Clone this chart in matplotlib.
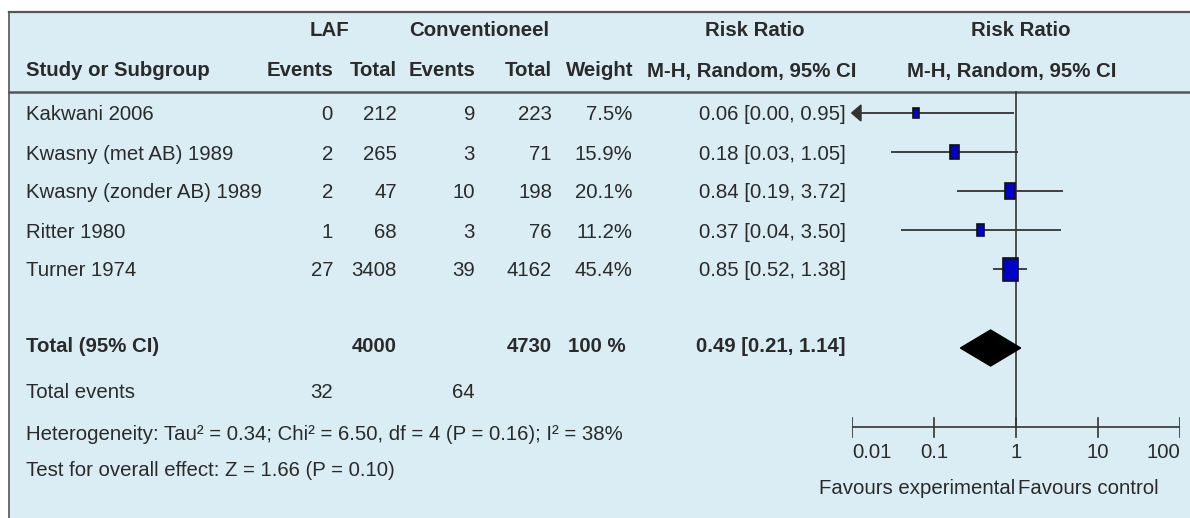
import numpy as np
import matplotlib
matplotlib.use('Agg')
import matplotlib.pyplot as plt
from matplotlib.patches import Rectangle, Polygon

plt.rcParams['font.family'] = ['Liberation Sans', 'DejaVu Sans']

studies = ['Kakwani 2006', 'Kwasny (met AB) 1989', 'Kwasny (zonder AB) 1989',
           'Ritter 1980', 'Turner 1974']
laf_events = [0, 2, 2, 1, 27]
laf_total = [212, 265, 47, 68, 3408]
conv_events = [9, 3, 10, 3, 39]
conv_total = [223, 71, 198, 76, 4162]
weights = [7.5, 15.9, 20.1, 11.2, 45.4]
rr = [0.06, 0.18, 0.84, 0.37, 0.85]
ci_lo = [0.00, 0.03, 0.19, 0.04, 0.52]
ci_hi = [0.95, 1.05, 3.72, 3.50, 1.38]

total_rr, total_lo, total_hi = 0.49, 0.21, 1.14
tot_laf, tot_conv = 4000, 4730
events_laf, events_conv = 32, 64
heterogeneity = 'Heterogeneity: Tau² = 0.34; Chi² = 6.50, df = 4 (P = 0.16); I² = 38%'
overall = 'Test for overall effect: Z = 1.66 (P = 0.10)'
ticks = [0.01, 0.1, 1, 10, 100]
tick_labels = ['0.01', '0.1', '1', '10', '100']

BG = '#daedf4'
TXT = '#2a2a2a'
FS = 14.7

fig = plt.figure(figsize=(11.9, 5.18), dpi=100)
fig.patch.set_facecolor('white')
ax = fig.add_axes([0, 0, 1, 1])
ax.set_xlim(0, 1190)
ax.set_ylim(518, 0)
ax.axis('off')

# panel
ax.add_patch(Rectangle((9, 12), 1200, 520, facecolor=BG, edgecolor='none'))
ax.plot([9, 1190], [12, 12], color='#555555', lw=1.6)
ax.plot([9, 9], [12, 518], color='#555555', lw=1.2)
ax.plot([9, 1190], [92, 92], color='#555555', lw=1.8)


def t(x, y, s, ha='left', bold=False):
    ax.text(x, y, s, ha=ha, va='center', fontsize=FS, color=TXT,
            fontweight='bold' if bold else 'normal')


# header
t(329, 31, 'LAF', 'center', True)
t(479, 31, 'Conventioneel', 'center', True)
t(755, 31, 'Risk Ratio', 'center', True)
t(1021, 31, 'Risk Ratio', 'center', True)
t(26, 71, 'Study or Subgroup', bold=True)
t(333, 71, 'Events', 'right', True)
t(397, 71, 'Total', 'right', True)
t(475, 71, 'Events', 'right', True)
t(552, 71, 'Total', 'right', True)
t(633, 71, 'Weight', 'right', True)
t(752, 71, 'M-H, Random, 95% CI', 'center', True)
t(1012, 71, 'M-H, Random, 95% CI', 'center', True)

rows_y = [113, 152, 191, 230, 269]
for i, y in enumerate(rows_y):
    yt = y + 2
    t(26, yt, studies[i])
    t(333, yt, str(laf_events[i]), 'right')
    t(397, yt, str(laf_total[i]), 'right')
    t(475, yt, str(conv_events[i]), 'right')
    t(552, yt, str(conv_total[i]), 'right')
    t(632, yt, f'{weights[i]:.1f}%', 'right')
    t(846, yt, f'{rr[i]:.2f} [{ci_lo[i]:.2f}, {ci_hi[i]:.2f}]', 'right')

ty = 348
t(26, ty - 1, 'Total (95% CI)', bold=True)
t(397, ty - 1, str(tot_laf), 'right', True)
t(552, ty - 1, str(tot_conv), 'right', True)
t(626, ty - 1, '100 %', 'right', True)
t(846, ty - 1, f'{total_rr:.2f} [{total_lo:.2f}, {total_hi:.2f}]', 'right', True)

t(26, 392, 'Total events')
t(333, 392, str(events_laf), 'right')
t(475, 392, str(events_conv), 'right')
t(26, 434, heterogeneity)
t(26, 470, overall)

# forest plot
x0, x1 = 852, 1180
fax = fig.add_axes([x0 / 1190, 0, (x1 - x0) / 1190, 1])
fax.set_xscale('log')
fax.set_xlim(0.01, 100)
fax.set_ylim(518, 0)
fax.axis('off')
fax.patch.set_alpha(0)
dec = (x1 - x0) / 4.0  # pixels per decade

fax.plot([1, 1], [92, 427], color='#333333', lw=1.2)
fax.plot([0.01, 100], [427, 427], color='#333333', lw=1.2)
for k, tk in enumerate(ticks):
    fax.plot([tk, tk], [418, 437], color='#333333', lw=1.2)
    ha = 'left' if k == 0 else ('right' if k == len(ticks) - 1 else 'center')
    fax.text(tk, 452, tick_labels[k], ha=ha, va='center', fontsize=FS, color=TXT)
fax.text(0.98, 489, 'Favours experimental', ha='right', va='center', fontsize=FS, color=TXT)
fax.text(1.05, 489, 'Favours control', ha='left', va='center', fontsize=FS, color=TXT)

for i, y in enumerate(rows_y):
    lo = max(ci_lo[i], 0.01)
    fax.plot([lo, ci_hi[i]], [y, y], color='#333333', lw=1.3, solid_capstyle='butt')
    if ci_lo[i] < 0.01:
        a = 10 ** (np.log10(0.01) + 9 / dec)
        fax.add_patch(Polygon([(0.0099, y), (a, y - 8), (a, y + 8)], closed=True,
                              facecolor='#333333', edgecolor='#333333', clip_on=False))
    f = np.sqrt(weights[i] / max(weights))
    w, h = 15 * f, 23 * f
    left = 10 ** (np.log10(rr[i]) - w / 2 / dec)
    right = 10 ** (np.log10(rr[i]) + w / 2 / dec)
    fax.add_patch(Rectangle((left, y - h / 2), right - left, h, facecolor='#0000c8',
                            edgecolor='#111111', lw=1.2, zorder=3))

fax.add_patch(Polygon([(total_lo, ty), (total_rr, ty - 18), (total_hi, ty), (total_rr, ty + 18)],
                      closed=True, facecolor='black', edgecolor='black', zorder=3))

fig.savefig('out.png', dpi=100, facecolor=fig.get_facecolor())
